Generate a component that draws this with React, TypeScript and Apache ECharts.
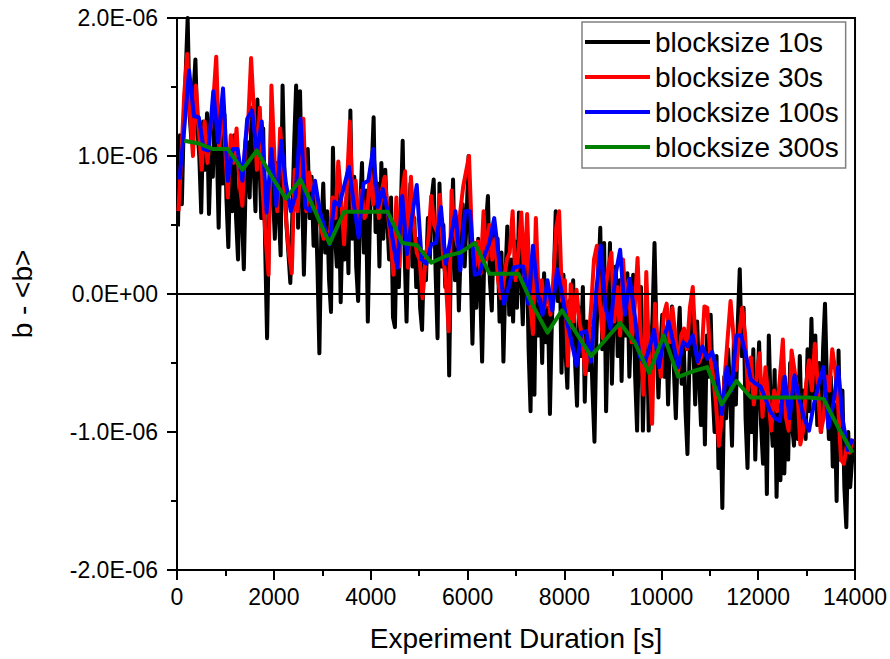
import React, { useEffect, useRef } from "react";
import * as echarts from "echarts";

// Deviation of b from its mean, in units of 1E-06, for four averaging block sizes.
// Each series is sampled on a regular time grid: t = T0 + i * DT (seconds).

const BLACK_T0 = 20;
const BLACK_DT = 40;
const blackValues = [
  0.49, 1.15, 0.65, 1.25, 1.6, 2.0, 1.3, 1.1, 1.45, 1.7, 1.2, 1.0, 0.59, 1.25, 0.9,
  1.31, 0.58, 1.05, 0.85, 1.4, 1.1, 0.48, 1.2, 0.8, 1.3, 0.7, 0.34, 0.95, 0.6, 1.15,
  0.55, 0.25, 0.9, 0.6, 0.18, 0.85, 1.1, 0.7, 1.35, 0.95, 0.6, 1.41, 1.0, 0.55, 1.2,
  0.35, -0.32, 0.5, 1.25, 0.75, 0.4, 0.95, 0.6, 0.28, 1.51, 0.85, 0.5, 0.3, 0.08, 0.55,
  1.1, 1.51, 0.48, 1.47, 0.8, 0.14, 0.7, 1.05, 0.55, 0.85, 0.35, 0.7, 0.2, -0.43, 0.45,
  0.8, 0.3, 0.6, 0.1, -0.13, 1.06, 0.45, 0.2, 0.75, -0.06, 0.55, 0.25, 0.7, 0.15, 1.33,
  0.4, 0.85, 0.2, -0.05, 0.6, 0.95, 0.3, 0.75, -0.2, 0.5, 0.9, 1.28, 0.45, 0.8, 0.2,
  0.95, 0.4, 0.9, 0.55, 0.25, 0.7, -0.17, -0.24, 0.5, 0.05, 0.6, 1.11, 0.3, -0.2, 0.45,
  0.8, 0.2, 0.55, 0.05, 0.4, -0.1, -0.26, 0.3, 0.1, 0.55, 0.25, 0.7, 0.83, 0.15, -0.32,
  0.8, 0.2, 0.5, 0.05, 0.3, -0.59, 0.4, 0.83, 0.1, 0.5, -0.12, 0.35, 0.65, 0.2, 0.55,
  1.0, 0.3, -0.36, 0.25, -0.1, 0.4, 0.05, -0.49, 0.2, 0.5, 0.71, 0.1, -0.12, 0.45, 0.15,
  0.4, -0.2, 0.3, -0.49, 0.1, 0.49, -0.15, 0.25, -0.2, 0.38, -0.1, 0.59, 0.15, -0.22, 0.3,
  0.37, -0.4, -0.85, 0.2, -0.73, 0.3, -0.3, 0.05, -0.5, 0.15, -0.35, -0.1, -0.87, -0.2, 0.1,
  0.6, -0.05, 0.35, -0.57, 0.14, -0.4, -0.68, -0.05, -0.3, 0.1, -0.5, -0.81, -0.1, -0.45, 0.05,
  -0.78, -0.2, -0.55, -0.25, -0.7, -1.07, -0.3, 0.1, 0.48, -0.4, 0.37, -0.85, -0.2, 0.37, -0.65,
  -0.1, 0.2, -0.45, 0.1, -0.63, 0.05, -0.3, 0.15, -0.6, -0.2, 0.14, -0.6, -0.99, -0.3, 0.05,
  -0.99, -0.4, -0.1, -0.99, -0.5, -0.15, 0.37, -0.3, -0.75, -0.4, -0.15, -0.6, -0.25, -0.8, -0.3,
  -0.09, -0.55, -0.9, -0.4, -0.1, -0.65, -0.3, -0.85, -1.16, -0.5, -0.1, -0.35, -0.8, -0.2, -0.6,
  -0.95, -0.4, -1.09, -0.3, -0.6, -0.15, -0.7, -1.0, -0.45, -1.26, -0.8, -1.55, -0.6, -0.9, -0.4,
  -0.7, -1.1, -0.3, -0.8, -0.2, 0.18, -0.45, -0.1, -0.9, -1.26, -0.6, -1.0, -0.4, -1.2, -0.7,
  -0.35, -0.95, -1.23, -0.6, -1.45, -0.3, -0.85, -1.1, -0.55, -1.47, -0.8, -1.35, -0.6, -1.3, -0.75,
  -1.2, -0.5, -0.95, -1.1, -0.6, -1.05, -0.45, -1.0, -0.7, -1.05, -0.4, -0.85, -0.18, -0.75, -0.3,
  -0.95, -0.5, -1.0, -0.4, -0.07, -0.65, -1.05, -0.6, -1.25, -0.8, -1.5, -0.41, -1.2, -0.7, -1.4,
  -1.69, -1.0, -1.4, -1.2, -1.05,
];

const RED_T0 = 30;
const RED_DT = 60;
const redValues = [
  0.6, 1.0, 1.45, 1.74, 1.3, 1.0, 1.51, 1.2, 0.9, 1.25,
  0.95, 1.2, 1.4, 1.72, 1.05, 1.35, 1.1, 0.7, 1.15, 0.95,
  1.2, 0.8, 0.64, 1.1, 1.25, 1.71, 1.3, 0.9, 1.35, 0.75,
  0.4, 0.14, 1.51, 1.0, 0.6, 1.2, 0.9, 0.55, 0.3, 0.15,
  0.9, 0.6, 0.95, 1.27, 0.6, 0.88, 0.75, 0.8, 0.6, 0.48,
  0.4, 0.45, 0.38, 0.7, 0.55, 0.96, 0.7, 0.36, 0.8, 1.25,
  0.6, 0.82, 0.45, 0.75, 0.55, 0.6, 0.9, 0.65, 0.8, 0.55,
  0.75, 0.85, 0.6, 0.4, 0.14, 0.7, 0.2, 0.75, 0.89, 0.19,
  0.85, 0.5, 0.3, 0.25, -0.03, 0.25, 0.4, 0.71, 0.5, 0.45,
  0.72, 0.3, 0.1, -0.27, 0.75, 0.45, 0.35, 0.6, 0.78, 0.89,
  1.0, 0.4, 0.2, 0.38, 0.15, 0.6, 0.25, 0.5, 0.25, 0.4,
  0.1, -0.03, 0.1, 0.25, 0.3, 0.6, 0.1, 0.3, 0.59, 0.1,
  0.58, -0.05, -0.29, 0.55, -0.05, 0.1, -0.1, 0.05, -0.15, 0.1,
  0.48, 0.6, -0.05, 0.1, -0.52, 0.07, -0.2, 0.03, -0.2, -0.32,
  -0.58, -0.4, -0.1, 0.25, 0.35, -0.05, -0.32, 0.05, 0.2, 0.3,
  -0.2, 0.05, -0.3, 0.25, -0.1, 0.1, -0.35, -0.1, 0.26, -0.3,
  -0.73, 0.16, -0.5, -0.94, -0.07, -0.4, -0.6, -0.15, -0.07, -0.35,
  -0.1, -0.3, -0.56, -0.3, -0.25, -0.4, -0.1, 0.05, -0.4, -0.5,
  -0.45, -0.09, -0.1, -0.45, -0.6, -0.8, -1.1, -0.9, -0.6, -0.32,
  -0.05, -0.3, -0.55, -0.3, -0.1, -0.29, -0.7, -0.46, -0.8, -0.6,
  -0.43, -0.89, -0.53, -0.75, -0.99, -0.7, -0.85, -0.6, -0.33, -0.89,
  -0.99, -0.41, -0.55, -0.7, -1.09, -0.99, -0.65, -0.48, -0.7, -0.36,
  -0.65, -1.0, -0.9, -0.6, -0.7, -0.4, -0.55, -0.8, -1.2, -1.23,
  -1.1, -1.15, -1.05,
];

const BLUE_T0 = 50;
const BLUE_DT = 100;
const blueValues = [
  0.83, 1.2, 1.62, 1.29, 1.28, 1.05, 1.04, 1.47, 1.1, 1.49,
  0.82, 1.05, 1.05, 0.82, 1.27, 1.33, 1.02, 1.25, 0.59, 1.05,
  0.64, 1.11, 0.8, 0.6, 0.72, 1.27, 0.63, 0.6, 0.82, 0.6,
  0.48, 0.36, 0.67, 0.64, 0.78, 0.92, 0.66, 0.41, 0.8, 0.82,
  1.05, 0.63, 0.76, 0.6, 0.4, 0.19, 0.71, 0.29, 0.55, 0.79,
  0.25, 0.22, 0.36, 0.37, 0.63, 0.22, 0.4, 0.6, 0.17, 0.6,
  0.6, 0.14, 0.15, 0.28, 0.37, 0.55, 0.25, -0.07, 0.05, 0.19,
  0.2, 0.2, -0.07, 0.35, 0.0, -0.15, 0.1, -0.12, 0.18, 0.0,
  -0.2, -0.35, -0.52, -0.28, -0.27, -0.49, 0.0, 0.35, -0.1, -0.25,
  0.13, 0.32, -0.15, 0.11, -0.15, -0.45, -0.5, -0.4, -0.26, -0.53,
  -0.33, -0.2, -0.36, -0.53, -0.35, -0.38, -0.3, -0.49, -0.38, -0.47,
  -0.42, -0.55, -0.87, -0.53, -0.7, -0.3, -0.3, -0.45, -0.62, -0.65,
  -0.67, -0.76, -0.85, -0.9, -0.92, -0.6, -0.9, -0.59, -0.76, -0.9,
  -0.99, -0.8, -0.65, -0.53, -0.97, -0.8, -0.53, -0.92, -1.13, -1.05,
];

const GREEN_T0 = 150;
const GREEN_DT = 300;
const greenValues = [
  1.11, 1.09, 1.05, 1.05, 0.9, 1.04, 0.855, 0.69, 0.83, 0.6,
  0.365, 0.596, 0.596, 0.596, 0.596, 0.37, 0.355, 0.227, 0.275, 0.3,
  0.37, 0.147, 0.147, 0.147, -0.084, -0.28, -0.118, -0.285, -0.45, -0.33,
  -0.21, -0.35, -0.57, -0.3, -0.6, -0.56, -0.53, -0.8, -0.63, -0.75,
  -0.75, -0.75, -0.75, -0.75, -0.76, -0.965, -1.15,
];

const seriesNames = ["blocksize 10s", "blocksize 30s", "blocksize 100s", "blocksize 300s"];
const seriesColors = ["#000000", "#ff0000", "#0000ff", "#008000"];

const xTicks = { min: 0, max: 14000, interval: 2000 };
const yTicks = { min: -2, max: 2, interval: 1 };

const FONT = "'Liberation Sans', Arial, Helvetica, sans-serif";

function toPairs(values: number[], t0: number, dt: number): number[][] {
  return values.map((v, i) => [t0 + i * dt, v]);
}

function formatMicro(v: number): string {
  if (v === 0) return "0.0E+00";
  return `${v.toFixed(1)}E-06`;
}

export default function App() {
  const ref = useRef<HTMLDivElement>(null);

  useEffect(() => {
    if (!ref.current) return;
    const chart = echarts.init(ref.current, null, { renderer: "svg" });

    const sources = [
      toPairs(blackValues, BLACK_T0, BLACK_DT),
      toPairs(redValues, RED_T0, RED_DT),
      toPairs(blueValues, BLUE_T0, BLUE_DT),
      toPairs(greenValues, GREEN_T0, GREEN_DT),
    ];
    const widths = [4, 4, 4, 4];

    const series: any[] = sources.map((data, i) => ({
      type: "line",
      name: seriesNames[i],
      data,
      symbol: "none",
      showSymbol: false,
      lineStyle: { color: seriesColors[i], width: widths[i], join: "round" },
      itemStyle: { color: seriesColors[i] },
      emphasis: { disabled: true },
      silent: true,
      z: 2 + i,
    }));

    // zero reference line
    series[0].markLine = {
      silent: true,
      symbol: ["none", "none"],
      label: { show: false },
      lineStyle: { color: "#000", width: 2, type: "solid" },
      emphasis: { disabled: true },
      data: [{ yAxis: 0 }],
    };

    const tickStyle = { color: "#000", width: 2 };

    chart.setOption({
      animation: false,
      backgroundColor: "#ffffff",
      grid: {
        left: 172,
        right: 33,
        top: 18,
        bottom: 89,
        show: true,
        borderColor: "#000",
        borderWidth: 2,
        backgroundColor: "transparent",
      },
      legend: {
        orient: "vertical",
        left: 582,
        top: 22,
        icon: "rect",
        itemWidth: 65,
        itemHeight: 4,
        itemGap: 7,
        padding: [6, 7, 7, 3],
        borderColor: "#808080",
        borderWidth: 1.5,
        backgroundColor: "#ffffff",
        selectedMode: false,
        data: seriesNames,
        textStyle: { fontFamily: FONT, fontSize: 28, lineHeight: 28, color: "#000" },
      },
      xAxis: {
        type: "value",
        min: xTicks.min,
        max: xTicks.max,
        interval: xTicks.interval,
        name: "Experiment Duration [s]",
        nameLocation: "middle",
        nameGap: 54,
        nameTextStyle: { fontFamily: FONT, fontSize: 28, color: "#000" },
        axisLine: { show: true, onZero: false, lineStyle: { color: "#000", width: 2 } },
        axisTick: { show: true, inside: false, length: 10, lineStyle: tickStyle },
        minorTick: { show: true, splitNumber: 2, length: 6, lineStyle: tickStyle },
        splitLine: { show: false },
        axisLabel: {
          fontFamily: FONT,
          fontSize: 23,
          color: "#000",
          margin: 15,
          formatter: (v: number) => String(v),
        },
      },
      yAxis: {
        type: "value",
        min: yTicks.min,
        max: yTicks.max,
        interval: yTicks.interval,
        name: "b - <b>",
        nameLocation: "middle",
        nameGap: 141,
        nameRotate: 90,
        nameTextStyle: { fontFamily: FONT, fontSize: 28, color: "#000" },
        axisLine: { show: true, onZero: false, lineStyle: { color: "#000", width: 2 } },
        axisTick: { show: true, inside: false, length: 10, lineStyle: tickStyle },
        minorTick: { show: true, splitNumber: 2, length: 6, lineStyle: tickStyle },
        splitLine: { show: false },
        axisLabel: {
          fontFamily: FONT,
          fontSize: 23,
          color: "#000",
          margin: 19,
          formatter: (v: number) => formatMicro(v),
        },
      },
      series,
    });

    return () => chart.dispose();
  }, []);

  return (
    <div
      ref={ref}
      style={{ position: "absolute", left: 0, top: 0, width: 890, height: 659, background: "#fff" }}
    />
  );
}
